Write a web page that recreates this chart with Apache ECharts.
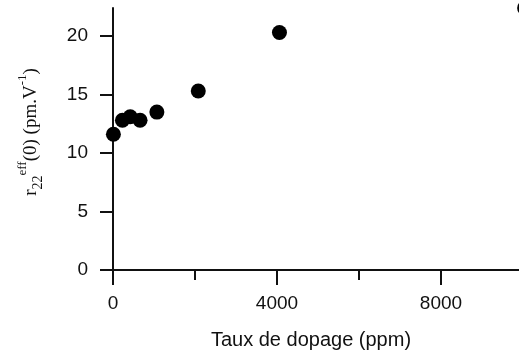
<!DOCTYPE html>
<html>
<head>
<meta charset="utf-8">
<script src="https://cdn.jsdelivr.net/npm/echarts@6/dist/echarts.min.js"></script>
<style>
  html, body { margin: 0; padding: 0; background: #fff; }
  #chart { width: 519px; height: 356px; }
</style>
</head>
<body>
<div id="chart"></div>
<script>
// dopage (ppm) et r22 eff (pm/V)
var dopage = [10, 230, 420, 660, 1070, 2080, 4060, 10040]
var r22 = [11.6, 12.8, 13.1, 12.8, 13.5, 15.3, 20.3, 22.4]
var yTicks = [0, 5, 10, 15, 20]

var points = dopage.map(function (d, i) { return [d, r22[i]] })

var chart = echarts.init(document.getElementById('chart'))

var option = {
  animation: false,
  grid: { left: 113, top: 8, width: 492, height: 262, outerBoundsMode: 'none', containLabel: false },
  xAxis: {
    type: 'value',
    min: 0,
    max: 12000,
    interval: 4000,
    name: 'Taux de dopage (ppm)',
    nameLocation: 'middle',
    nameGap: 60,
    nameTextStyle: {
      fontFamily: 'Liberation Sans',
      fontSize: 20,
      color: '#111',
      padding: [0, 96, 0, 0]
    },
    axisLine: { onZero: false, lineStyle: { color: '#111', width: 2 } },
    axisTick: { length: 15, lineStyle: { color: '#111', width: 2 } },
    minorTick: { show: true, splitNumber: 2, length: 10, lineStyle: { color: '#111', width: 2 } },
    axisLabel: {
      margin: 24, fontFamily: 'Liberation Sans', fontSize: 19, color: '#111',
      formatter: function (v) { return String(v) }
    },
    splitLine: { show: false },
    minorSplitLine: { show: false }
  },
  yAxis: {
    type: 'value',
    min: 0,
    max: 22.4,
    name: '{t|r}{sub|22}{sup|eff}{t|(0) (pm.V}{sup|-1}{t|)}',
    nameLocation: 'middle',
    nameGap: 66,
    nameTextStyle: {
      fontFamily: 'Liberation Serif',
      fontSize: 19,
      color: '#111',
      padding: [0, 0, 0, 14],
      rich: {
        t: { fontFamily: 'Liberation Serif', fontSize: 19, color: '#111', lineHeight: 32, verticalAlign: 'middle' },
        sub: { fontFamily: 'Liberation Serif', fontSize: 14, color: '#111', lineHeight: 32, verticalAlign: 'bottom', padding: [0, 0, 2, 0] },
        sup: { fontFamily: 'Liberation Serif', fontSize: 13, color: '#111', lineHeight: 32, verticalAlign: 'top', padding: [1, 0, 0, 0] }
      }
    },
    axisLine: { lineStyle: { color: '#111', width: 2 } },
    axisTick: { length: 13, customValues: yTicks, lineStyle: { color: '#111', width: 2 } },
    axisLabel: { margin: 25, customValues: yTicks, fontFamily: 'Liberation Sans', fontSize: 19, color: '#111' },
    splitLine: { show: false }
  },
  series: [{
    type: 'scatter',
    data: points,
    symbol: 'circle',
    symbolSize: 15,
    clip: false,
    itemStyle: { color: '#000', opacity: 1 }
  }]
}

chart.setOption(option)
</script>
</body>
</html>
